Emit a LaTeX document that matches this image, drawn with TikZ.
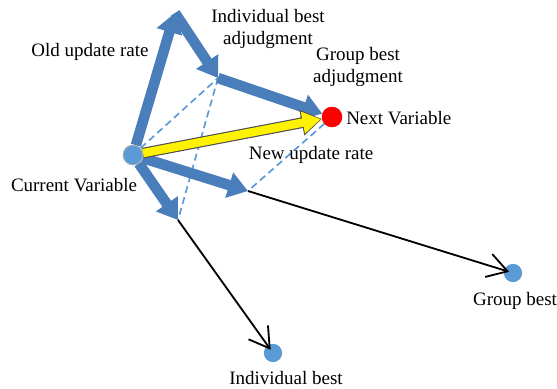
\documentclass[tikz,border=0pt]{standalone}
\usepackage{fontspec}
\setmainfont{Liberation Serif}
\usetikzlibrary{arrows.meta}
\definecolor{fatblue}{HTML}{4A7EBB}
\definecolor{dotblue}{HTML}{5B9BD5}
\tikzset{
  fat/.style={draw=fatblue,line width=7.5pt,-{Triangle[length=14pt,width=18pt]}},
  gold/.style={draw=yellow,line width=6pt,-{Triangle[length=13pt,width=15pt]}},
  goldedge/.style={draw=black!70,line width=7.6pt,-{Triangle[length=14.5pt,width=17.5pt]}},
  guide/.style={draw=dotblue,dash pattern=on 5pt off 3pt,line width=1.2pt},
  barb/.style={draw=black,line width=1.3pt,shorten >=-4pt,-{Straight Barb[length=14pt,width=17pt]}},
  dot/.style={circle,draw=gray!60,line width=0.6pt,minimum size=14pt,inner sep=0pt},
  lbl/.style={align=center,inner sep=0pt}
}
\begin{document}
\begin{tikzpicture}[x=0.025cm,y=-0.025cm,font=\fontsize{13.5}{16}\selectfont]
			\useasboundingbox (0,0) rectangle (557,388);
			% points
			\coordinate (top) at (175,13);
			\coordinate (ibadj) at (218,78);
			\coordinate (gbend) at (248,191);
			\coordinate (ibend) at (178,220);
			\node[dot,fill=dotblue] (cur) at (133,155) {};
			\node[dot,fill=red,draw=red] (next) at (332,117) {};
			\node[dot,fill=dotblue,draw=none,minimum size=13pt] (gbest) at (513,273) {};
			\node[dot,fill=dotblue,draw=none,minimum size=13pt] (ibest) at (273,353) {};
			% dashed guides
			\draw[guide] (cur) -- (ibadj);
			\draw[guide] (ibadj) -- (ibend);
			\draw[guide] (next) -- (gbend);
			% thin arrows
			\draw[barb] (gbend) -- (gbest);
			\draw[barb] (ibend) -- (ibest);
			% fat arrows
			\draw[fat] (cur) -- (top);
			\draw[fat] (top) -- (ibadj);
			\draw[fat] (ibadj) -- (next);
			\draw[fat] (cur) -- (gbend);
			\draw[fat] (cur) -- (ibend);
			\draw[goldedge] (cur) -- (next);
			\draw[gold,shorten >=0.8pt] (cur) -- (next);
			\node[dot,fill=dotblue] at (cur) {};
			% labels
			\node[lbl] (oldrate) at (90,52) {Old update rate};
			\node[lbl] (ibadjtxt) at (268,29) {Individual best\\adjudgment};
			\node[lbl] (gbadjtxt) at (358,67) {Group best\\adjudgment};
			\node[lbl,anchor=west] (nexttxt) at (346,118) {Next Variable};
			\node[lbl] (newrate) at (311,155) {New update rate};
			\node[lbl] (curtxt) at (74,185) {Current Variable};
			\node[lbl] (gbesttxt) at (515,301) {Group best};
			\node[lbl] (ibesttxt) at (286,378) {Individual best};
		\end{tikzpicture}
\end{document}
